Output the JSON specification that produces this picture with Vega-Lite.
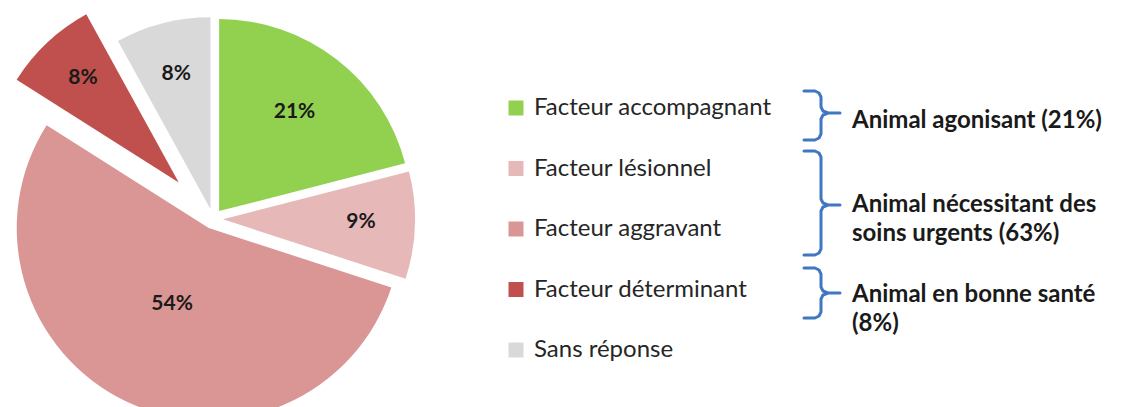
{
  "$schema": "https://vega.github.io/schema/vega-lite/v6.json",
  "width": 1125,
  "height": 407,
  "autosize": {"type": "none"},
  "padding": 0,
  "background": "white",
  "config": {"view": {"stroke": null}, "font": "Lato"},
  "datasets": {
    "slices": [
      {"cat": "Facteur accompagnant", "value": 21},
      {"cat": "Facteur lésionnel", "value": 9},
      {"cat": "Facteur aggravant", "value": 54},
      {"cat": "Facteur déterminant", "value": 8},
      {"cat": "Sans réponse", "value": 8}
    ],
    "groups": [
      {"label": ["Animal agonisant (21%)"], "x": 852, "y": 121},
      {"label": ["Animal nécessitant des", "soins urgents (63%)"], "x": 852, "y": 205},
      {"label": ["Animal en bonne santé", "(8%)"], "x": 852, "y": 295}
    ],
    "braces": [
      {"g": 1, "k": 1, "x": 804, "y": 91}, {"g": 1, "k": 2, "x": 815, "y": 91}, {"g": 1, "k": 3, "x": 819, "y": 93}, {"g": 1, "k": 4, "x": 821, "y": 97},
      {"g": 1, "k": 5, "x": 821, "y": 107}, {"g": 1, "k": 6, "x": 823, "y": 111}, {"g": 1, "k": 7, "x": 828, "y": 113}, {"g": 1, "k": 8, "x": 840, "y": 113},
      {"g": 1, "k": 9, "x": 828, "y": 113}, {"g": 1, "k": 10, "x": 823, "y": 115}, {"g": 1, "k": 11, "x": 821, "y": 119}, {"g": 1, "k": 12, "x": 821, "y": 134},
      {"g": 1, "k": 13, "x": 819, "y": 138}, {"g": 1, "k": 14, "x": 815, "y": 140}, {"g": 1, "k": 15, "x": 804, "y": 140},
      {"g": 2, "k": 1, "x": 804, "y": 151}, {"g": 2, "k": 2, "x": 815, "y": 151}, {"g": 2, "k": 3, "x": 819, "y": 153}, {"g": 2, "k": 4, "x": 821, "y": 157},
      {"g": 2, "k": 5, "x": 821, "y": 199}, {"g": 2, "k": 6, "x": 823, "y": 203}, {"g": 2, "k": 7, "x": 828, "y": 205}, {"g": 2, "k": 8, "x": 840, "y": 205},
      {"g": 2, "k": 9, "x": 828, "y": 205}, {"g": 2, "k": 10, "x": 823, "y": 207}, {"g": 2, "k": 11, "x": 821, "y": 211}, {"g": 2, "k": 12, "x": 821, "y": 249},
      {"g": 2, "k": 13, "x": 819, "y": 253}, {"g": 2, "k": 14, "x": 815, "y": 255}, {"g": 2, "k": 15, "x": 804, "y": 255},
      {"g": 3, "k": 1, "x": 804, "y": 268}, {"g": 3, "k": 2, "x": 815, "y": 268}, {"g": 3, "k": 3, "x": 819, "y": 270}, {"g": 3, "k": 4, "x": 821, "y": 274},
      {"g": 3, "k": 5, "x": 821, "y": 287}, {"g": 3, "k": 6, "x": 823, "y": 291}, {"g": 3, "k": 7, "x": 828, "y": 293}, {"g": 3, "k": 8, "x": 840, "y": 293},
      {"g": 3, "k": 9, "x": 828, "y": 293}, {"g": 3, "k": 10, "x": 823, "y": 295}, {"g": 3, "k": 11, "x": 821, "y": 299}, {"g": 3, "k": 12, "x": 821, "y": 312},
      {"g": 3, "k": 13, "x": 819, "y": 316}, {"g": 3, "k": 14, "x": 815, "y": 318}, {"g": 3, "k": 15, "x": 804, "y": 318}
    ]
  },
  "layer": [
    {
      "data": {"name": "slices"},
      "transform": [
        {"window": [{"op": "row_number", "as": "rn"}]},
        {"stack": "value", "groupby": [], "sort": [{"field": "rn"}], "as": ["v0", "v1"]}
      ],
      "mark": {
        "type": "arc",
        "radius": 192,
        "xOffset": {"expr": "(datum.cat === 'Facteur déterminant' ? 50 : 10) * sin(PI * (datum.v0 + datum.v1) / 100)"},
        "yOffset": {"expr": "-(datum.cat === 'Facteur déterminant' ? 50 : 10) * cos(PI * (datum.v0 + datum.v1) / 100)"}
      },
      "encoding": {
        "x": {"datum": 213, "type": "quantitative", "scale": {"domain": [0, 1125], "nice": false, "zero": false}, "axis": null},
        "y": {"datum": 219, "type": "quantitative", "scale": {"domain": [0, 407], "nice": false, "zero": false, "reverse": true}, "axis": null},
        "theta": {"field": "v0", "type": "quantitative", "scale": {"domain": [0, 100]}},
        "theta2": {"field": "v1"},
        "color": {
          "field": "cat",
          "type": "nominal",
          "scale": {
            "domain": ["Facteur accompagnant", "Facteur lésionnel", "Facteur aggravant", "Facteur déterminant", "Sans réponse"],
            "range": ["#92D050", "#E6B9B8", "#D99694", "#C0504D", "#D9D9D9"]
          },
          "legend": {
            "title": null,
            "orient": "none",
            "legendX": 504,
            "legendY": 96,
            "padding": 0,
            "symbolType": "square",
            "symbolSize": 225,
            "symbolStrokeWidth": 0,
            "labelFont": "Lato",
            "labelFontSize": 24,
            "labelColor": "#262626",
            "labelOffset": 6,
            "labelLimit": 400,
            "rowPadding": 36.5
          }
        }
      }
    },
    {
      "data": {"name": "slices"},
      "transform": [
        {"window": [{"op": "row_number", "as": "rn"}]},
        {"stack": "value", "groupby": [], "sort": [{"field": "rn"}], "as": ["v0", "v1"]},
        {"calculate": "(datum.v0 + datum.v1) / 2", "as": "mid"},
        {"calculate": "datum.value + '%'", "as": "lbl"}
      ],
      "mark": {
        "type": "text",
        "font": "Lato",
        "fontWeight": "bold",
        "fontSize": 21,
        "color": "#1a1a1a",
        "radius": {"expr": "datum.cat === 'Facteur aggravant' ? 96 : datum.cat === 'Facteur déterminant' ? 190 : datum.cat === 'Facteur accompagnant' ? 133 : 148"}
      },
      "encoding": {
        "x": {"datum": 213, "type": "quantitative"},
        "y": {"datum": 217, "type": "quantitative"},
        "theta": {"field": "mid", "type": "quantitative"},
        "text": {"field": "lbl"}
      }
    },
    {
      "data": {"name": "braces"},
      "mark": {"type": "line", "color": "#4077C2", "strokeWidth": 3, "strokeCap": "round", "strokeJoin": "round"},
      "encoding": {
        "x": {"field": "x", "type": "quantitative"},
        "y": {"field": "y", "type": "quantitative"},
        "detail": {"field": "g"},
        "order": {"field": "k"}
      }
    },
    {
      "data": {"name": "groups"},
      "mark": {"type": "text", "font": "Lato", "fontWeight": "bold", "fontSize": 24, "color": "#1a1a1a", "align": "left", "baseline": "middle", "lineHeight": 29},
      "encoding": {
        "x": {"field": "x", "type": "quantitative"},
        "y": {"field": "y", "type": "quantitative"},
        "text": {"field": "label"}
      }
    }
  ]
}
